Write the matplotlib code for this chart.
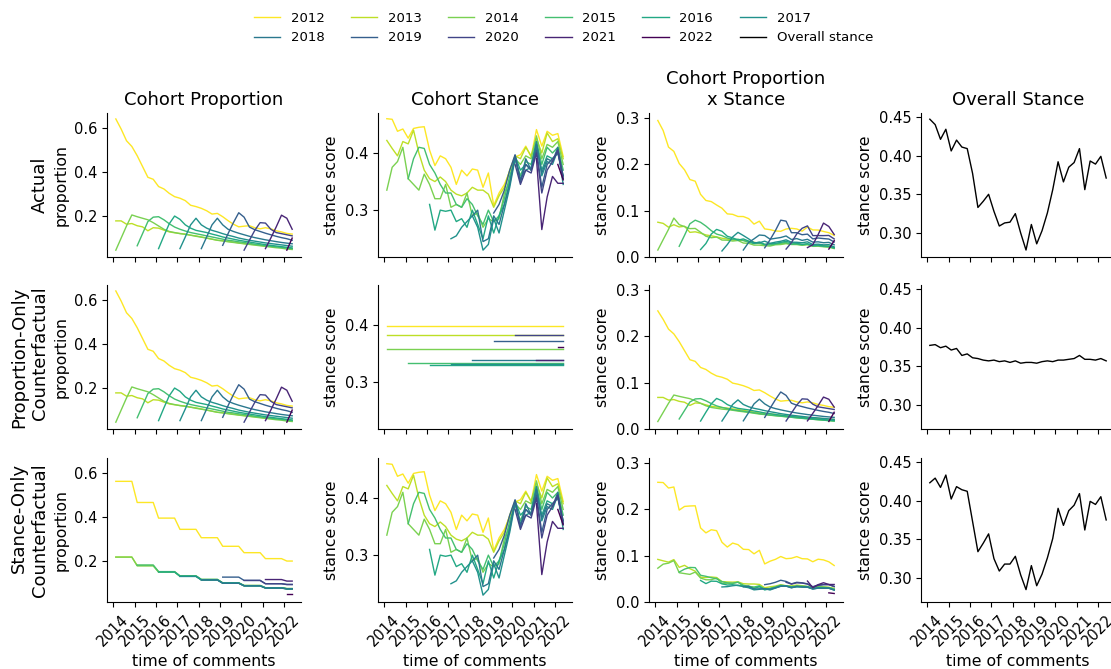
import numpy as np
import matplotlib
matplotlib.use("Agg")
import matplotlib.pyplot as plt

# quarterly time axis (mid-quarter), 2014 Q1 .. 2022 Q2
quarters = [2014.125 + 0.25 * i for i in range(34)]
years = [2014, 2015, 2016, 2017, 2018, 2019, 2020, 2021, 2022]
quarters_per_year = [4, 4, 4, 4, 4, 4, 4, 4, 2]

cohorts = ["2012", "2013", "2014", "2015", "2016", "2017", "2018", "2019", "2020", "2021", "2022"]
cohort_start = [0, 0, 0, 4, 8, 12, 16, 20, 24, 28, 32]  # first quarter index of each cohort

# share of comments from each cohort
prop_actual = [
    [0.641, 0.595, 0.542, 0.516, 0.474, 0.425, 0.376, 0.367, 0.334, 0.323, 0.303, 0.288, 0.281, 0.270, 0.249, 0.243, 0.235,
     0.224, 0.209, 0.212, 0.197, 0.179, 0.163, 0.151, 0.154, 0.156, 0.147, 0.142, 0.147, 0.142, 0.133, 0.128, 0.121, 0.118],
    [0.178, 0.178, 0.163, 0.166, 0.156, 0.151, 0.133, 0.147, 0.145, 0.136, 0.128, 0.124, 0.121, 0.118, 0.113, 0.110, 0.105,
     0.100, 0.095, 0.090, 0.088, 0.085, 0.082, 0.078, 0.075, 0.072, 0.070, 0.067, 0.064, 0.062, 0.060, 0.058, 0.055, 0.053],
    [0.045, 0.100, 0.155, 0.205, 0.197, 0.190, 0.183, 0.170, 0.155, 0.140, 0.130, 0.125, 0.120, 0.117, 0.113, 0.108, 0.104,
     0.100, 0.095, 0.090, 0.087, 0.083, 0.080, 0.077, 0.074, 0.071, 0.068, 0.065, 0.062, 0.059, 0.056, 0.054, 0.050, 0.048],
    [0.065, 0.120, 0.175, 0.195, 0.197, 0.183, 0.165, 0.150, 0.140, 0.132, 0.125, 0.120, 0.115, 0.110, 0.105, 0.100, 0.095,
     0.090, 0.087, 0.083, 0.080, 0.076, 0.072, 0.069, 0.066, 0.063, 0.060, 0.057, 0.055, 0.052],
    [0.052, 0.110, 0.165, 0.200, 0.185, 0.160, 0.145, 0.135, 0.130, 0.125, 0.118, 0.112, 0.105, 0.100, 0.095, 0.090, 0.086,
     0.082, 0.078, 0.074, 0.070, 0.067, 0.064, 0.061, 0.058, 0.055],
    [0.052, 0.105, 0.160, 0.190, 0.160, 0.145, 0.135, 0.128, 0.120, 0.113, 0.107, 0.100, 0.095, 0.090, 0.086, 0.082, 0.078,
     0.075, 0.072, 0.069, 0.066, 0.063],
    [0.052, 0.105, 0.160, 0.190, 0.160, 0.140, 0.130, 0.122, 0.115, 0.108, 0.102, 0.097, 0.092, 0.088, 0.084, 0.080, 0.077,
     0.074],
    [0.067, 0.120, 0.170, 0.215, 0.195, 0.150, 0.138, 0.130, 0.122, 0.115, 0.108, 0.102, 0.097, 0.090],
    [0.045, 0.090, 0.135, 0.170, 0.168, 0.140, 0.125, 0.120, 0.115, 0.110],
    [0.052, 0.100, 0.150, 0.204, 0.190, 0.140],
    [0.045, 0.100],
]

# mean stance score of each cohort
stance_actual = [
    [0.460, 0.459, 0.438, 0.442, 0.426, 0.443, 0.445, 0.446, 0.405, 0.378, 0.395, 0.390, 0.375, 0.345, 0.370, 0.360, 0.372,
     0.370, 0.340, 0.365, 0.308, 0.330, 0.345, 0.368, 0.393, 0.397, 0.412, 0.393, 0.441, 0.412, 0.438, 0.431, 0.434, 0.394],
    [0.422, 0.408, 0.395, 0.420, 0.416, 0.440, 0.400, 0.370, 0.355, 0.350, 0.358, 0.350, 0.335, 0.328, 0.325, 0.330, 0.340,
     0.335, 0.335, 0.328, 0.305, 0.325, 0.340, 0.370, 0.395, 0.390, 0.410, 0.395, 0.425, 0.400, 0.435, 0.420, 0.425, 0.390],
    [0.335, 0.375, 0.385, 0.410, 0.355, 0.345, 0.335, 0.363, 0.345, 0.320, 0.320, 0.345, 0.305, 0.310, 0.305, 0.330, 0.290,
     0.295, 0.270, 0.285, 0.280, 0.285, 0.330, 0.350, 0.390, 0.380, 0.395, 0.390, 0.430, 0.390, 0.415, 0.410, 0.420, 0.380],
    [0.355, 0.390, 0.410, 0.408, 0.380, 0.365, 0.345, 0.330, 0.330, 0.310, 0.305, 0.320, 0.310, 0.290, 0.275, 0.300, 0.280,
     0.290, 0.320, 0.360, 0.390, 0.360, 0.385, 0.380, 0.420, 0.380, 0.410, 0.400, 0.410, 0.370],
    [0.310, 0.265, 0.300, 0.298, 0.300, 0.280, 0.285, 0.270, 0.300, 0.275, 0.250, 0.290, 0.260, 0.290, 0.310, 0.350, 0.395,
     0.370, 0.380, 0.370, 0.410, 0.370, 0.395, 0.390, 0.400, 0.360],
    [0.250, 0.255, 0.270, 0.280, 0.290, 0.270, 0.230, 0.240, 0.285, 0.260, 0.300, 0.340, 0.390, 0.355, 0.370, 0.375, 0.420,
     0.360, 0.385, 0.380, 0.405, 0.345],
    [0.290, 0.300, 0.245, 0.250, 0.290, 0.275, 0.310, 0.345, 0.395, 0.350, 0.390, 0.370, 0.415, 0.365, 0.390, 0.385, 0.410,
     0.355],
    [0.295, 0.310, 0.335, 0.370, 0.397, 0.350, 0.380, 0.370, 0.405, 0.340, 0.380, 0.390, 0.400, 0.360],
    [0.380, 0.345, 0.370, 0.365, 0.400, 0.330, 0.370, 0.385, 0.405, 0.355],
    [0.390, 0.266, 0.323, 0.359, 0.347, 0.347],
    [0.380, 0.353],
]

# proportion-only counterfactual: each cohort keeps one fixed stance
stance_fixed = [0.398, 0.383, 0.358, 0.333, 0.330, 0.331, 0.339, 0.372, 0.383, 0.338, 0.362]

# stance-only counterfactual: cohort shares held per calendar year
prop_yearly = [
    [0.562, 0.466, 0.395, 0.344, 0.306, 0.267, 0.238, 0.211, 0.200],
    [0.218, 0.180, 0.151, 0.132, 0.116, 0.101, 0.089, 0.078, 0.075],
    [0.218, 0.178, 0.150, 0.131, 0.115, 0.100, 0.088, 0.078, 0.074],
    [0.182, 0.152, 0.133, 0.117, 0.101, 0.089, 0.079, 0.075],
    [0.150, 0.131, 0.115, 0.100, 0.088, 0.078, 0.074],
    [0.130, 0.114, 0.100, 0.088, 0.078, 0.074],
    [0.114, 0.099, 0.087, 0.077, 0.073],
    [0.127, 0.112, 0.097, 0.094],
    [0.112, 0.097, 0.093],
    [0.116, 0.109],
    [0.052],
]

overall_actual = [0.447, 0.440, 0.421, 0.434, 0.406, 0.420, 0.411, 0.409, 0.377, 0.333, 0.341, 0.350, 0.328, 0.309, 0.313,
                  0.314, 0.325, 0.300, 0.278, 0.311, 0.286, 0.303, 0.326, 0.356, 0.392, 0.366, 0.385, 0.391, 0.409, 0.356,
                  0.393, 0.389, 0.399, 0.371]
overall_prop_only = [0.377, 0.378, 0.374, 0.376, 0.371, 0.373, 0.364, 0.366, 0.361, 0.360, 0.358, 0.357, 0.358, 0.356,
                     0.357, 0.355, 0.357, 0.354, 0.355, 0.355, 0.354, 0.356, 0.357, 0.356, 0.358, 0.358, 0.359, 0.360,
                     0.364, 0.359, 0.359, 0.358, 0.360, 0.357]
overall_stance_only = [0.423, 0.429, 0.417, 0.433, 0.402, 0.418, 0.414, 0.412, 0.373, 0.334, 0.345, 0.357, 0.325, 0.309,
                       0.318, 0.318, 0.328, 0.304, 0.285, 0.316, 0.290, 0.305, 0.326, 0.351, 0.390, 0.368, 0.387, 0.394,
                       0.409, 0.362, 0.399, 0.395, 0.405, 0.375]


def full_series(values, start):
    out = np.full(len(quarters), np.nan)
    out[start:start + len(values)] = values
    return out


def yearly_to_quarters(values, start):
    first_year = years.index(int(quarters[start]))
    reps = quarters_per_year[first_year:first_year + len(values)]
    return full_series(np.repeat(values, reps), start)


colors = plt.cm.viridis(np.linspace(1, 0, len(cohorts)))

p_act = [full_series(v, s) for v, s in zip(prop_actual, cohort_start)]
s_act = [full_series(v, s) for v, s in zip(stance_actual, cohort_start)]
s_fix = [np.where(np.isnan(p), np.nan, c) for p, c in zip(p_act, stance_fixed)]
p_year = [yearly_to_quarters(v, s) for v, s in zip(prop_yearly, cohort_start)]

rows = [
    ("Actual", p_act, s_act, overall_actual),
    ("Proportion-Only\nCounterfactual", p_act, s_fix, overall_prop_only),
    ("Stance-Only\nCounterfactual", p_year, s_act, overall_stance_only),
]

fig = plt.figure(figsize=(11.11, 6.69), dpi=100)
lefts = [107, 378, 649, 921]
bottoms = [412, 240, 67]
W, H = 1111, 669
col_titles = ["Cohort Proportion", "Cohort Stance", "Cohort Proportion\nx Stance", "Overall Stance"]
col_ylabels = ["proportion", "stance score", "stance score", "stance score"]
col_ylims = [(0.014, 0.668), (0.218, 0.470), (0.0, 0.311), (0.269, 0.455)]
col_yticks = [[0.2, 0.4, 0.6], [0.3, 0.4], [0.0, 0.1, 0.2, 0.3], [0.30, 0.35, 0.40, 0.45]]
col_fmt = ["{:.1f}", "{:.1f}", "{:.1f}", "{:.2f}"]

lw = 1.0
for r, (row_name, props, stances, overall) in enumerate(rows):
    axes = []
    for c in range(4):
        ax = fig.add_axes([lefts[c] / W, bottoms[r] / H, 194 / W, 144 / H])
        axes.append(ax)
    for k in range(len(cohorts)):
        axes[0].plot(quarters, props[k], color=colors[k], lw=lw)
        axes[1].plot(quarters, stances[k], color=colors[k], lw=lw)
        axes[2].plot(quarters, props[k] * stances[k], color=colors[k], lw=lw)
    axes[3].plot(quarters, overall, color="black", lw=lw)

    for c, ax in enumerate(axes):
        ax.spines["top"].set_visible(False)
        ax.spines["right"].set_visible(False)
        ax.set_ylim(*col_ylims[c])
        ax.set_yticks(col_yticks[c])
        ax.set_yticklabels([col_fmt[c].format(t) for t in col_yticks[c]], fontsize=10.5)
        ax.set_ylabel(col_ylabels[c], fontsize=11.3)
        ax.set_xticks(years)
        if r == 2:
            ax.set_xticklabels([str(y) for y in years], rotation=45, fontsize=10.5)
            ax.set_xlabel("time of comments", fontsize=11.3)
        else:
            ax.set_xticklabels([])
        if r == 0:
            ax.set_title(col_titles[c], fontsize=13)

    y_mid = (bottoms[r] + 72) / H
    fig.text(49 / W, y_mid, row_name, rotation=90, ha="right", va="center", fontsize=13)

handles = [plt.Line2D([], [], color=colors[k], lw=lw) for k in range(len(cohorts))]
handles.append(plt.Line2D([], [], color="black", lw=lw))
labels = cohorts + ["Overall stance"]
# legend fills column by column; reorder so entries read across the rows
order = [j + 6 * i for j in range(6) for i in range(2)]
fig.legend([handles[i] for i in order], [labels[i] for i in order], loc="upper center",
           bbox_to_anchor=(0.507, 1.0), ncol=6, frameon=False, fontsize=9.5)

fig.savefig("out.png", dpi=100)
